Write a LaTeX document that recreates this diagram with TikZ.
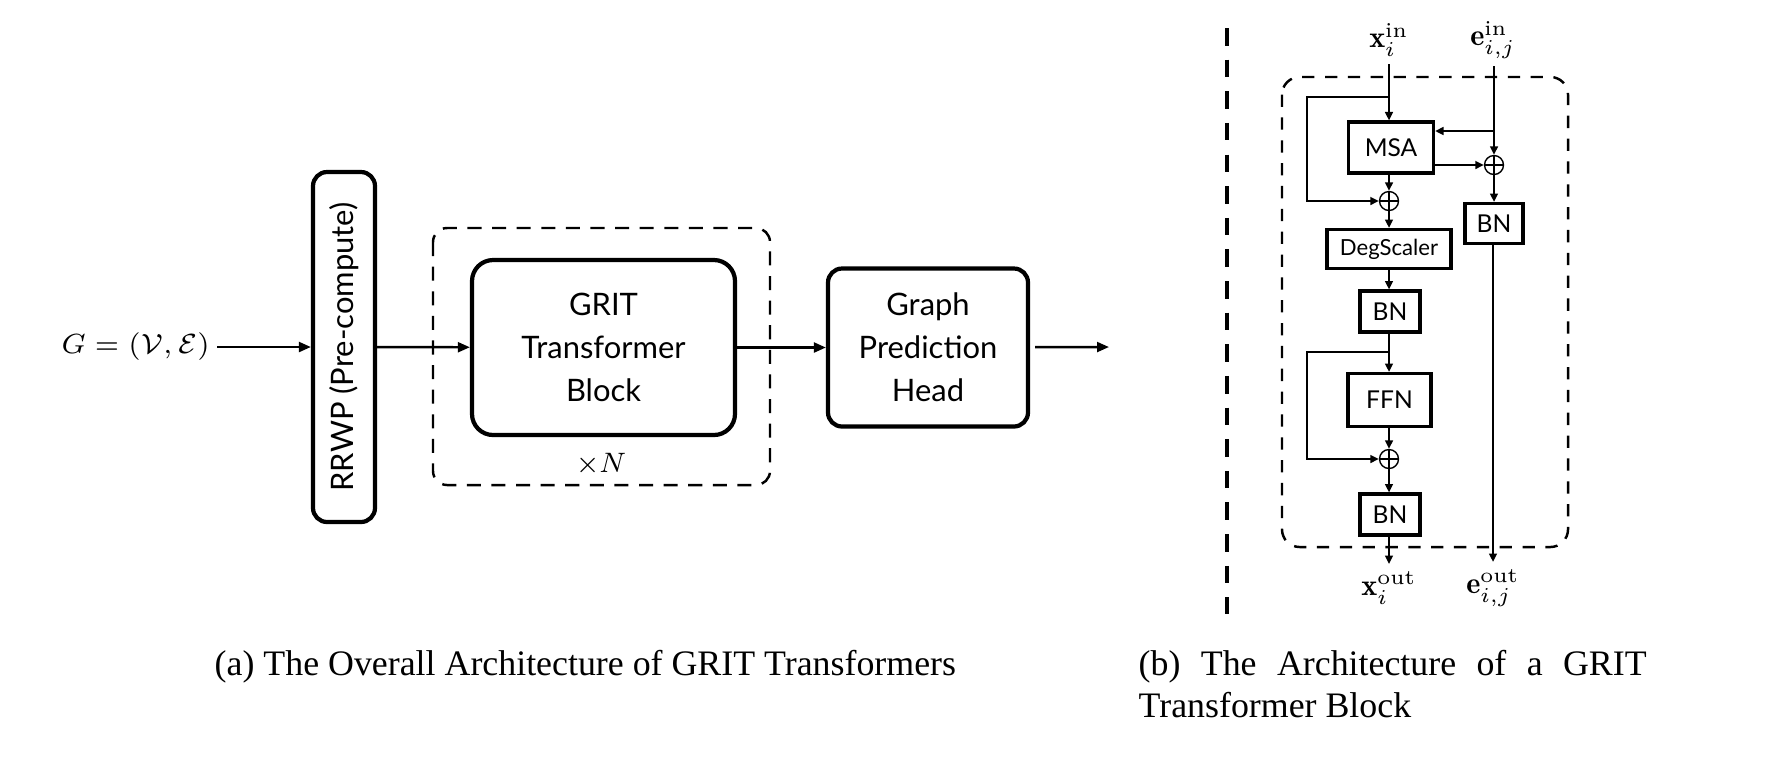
\documentclass[tikz,border=0pt]{standalone}
\usepackage{fix-cm}
\usepackage{amsmath}
\usepackage{fontspec}
\setsansfont{Lato}
\newfontfamily\capfont{Liberation Serif}
\usetikzlibrary{arrows.meta,calc}

\begin{document}
\begin{tikzpicture}[
  every node/.style={align=center, inner sep=2pt},
  block/.style={draw, line width=1.2pt, rounded corners=4pt, font=\sffamily\fontsize{8.8}{12.2}\selectfont},
  layer/.style={draw, line width=0.9pt, font=\sffamily\fontsize{7}{8}\selectfont},
  addop/.style={circle, draw, thin, minimum size=1.9mm, inner sep=0pt,
    path picture={\draw[thin] (path picture bounding box.north) -- (path picture bounding box.south)
      (path picture bounding box.west) -- (path picture bounding box.east);}},
  flow/.style={-{Triangle[length=3.4pt,width=2.8pt]}, line width=0.7pt},
  link/.style={-{Triangle[length=2.4pt,width=2.2pt]}, line width=0.6pt},
  loopbox/.style={dash pattern=on 4pt off 3pt, line width=0.7pt, rounded corners=4pt},
  divider/.style={dash pattern=on 5pt off 4pt, line width=0.9pt},
  var/.style={font=\fontsize{8.6}{10}\selectfont},
  captext/.style={font=\capfont\fontsize{10.2}{11.7}\selectfont, inner sep=0pt}
]
\useasboundingbox (0,0) rectangle (17.84,-7.58);

\node[var, font=\fontsize{7.9}{10}\selectfont] (graph) at (1.355,-3.47) {$G=(\mathcal{V},\mathcal{E})$};
\node[block, minimum width=0.62cm, minimum height=3.5cm] (rrwp) at (3.44,-3.47) {\rotatebox{90}{RRWP (Pre-compute)}};
\node[block, rounded corners=6pt, minimum width=2.63cm, minimum height=1.75cm] (grit) at (6.035,-3.475) {GRIT\\Transformer\\Block};
\node[block, minimum width=2.0cm, minimum height=1.58cm] (head) at (9.28,-3.475) {Graph\\Prediction\\Head};
\draw[loopbox] (4.33,-2.28) rectangle (7.70,-4.85);
\node[var, font=\fontsize{8}{10}\selectfont] (rep) at (6.01,-4.64) {$\times N$};
\coordinate (out) at (11.09,-3.47);

\draw[flow] (graph) -- (rrwp);
\draw[flow] (rrwp) -- (grit);
\draw[flow] (grit) -- (head);
\draw[flow, shorten <=0.05cm] (head) -- (out);

\draw[divider] (12.27,-0.28) -- (12.27,-6.14);
\draw[loopbox, dash pattern=on 3.5pt off 3pt, rounded corners=5pt] (12.82,-0.77) rectangle (15.68,-5.47);

\node[var] (xin) at (13.89,-0.40) {$\mathbf{x}_i^{\mathrm{in}}$};
\node[var] (ein) at (14.93,-0.40) {$\mathbf{e}_{i,j}^{\mathrm{in}}$};
\node[layer, minimum width=0.85cm, minimum height=0.51cm] (msa) at (13.91,-1.475) {MSA};
\node[addop] (add1) at (13.89,-2.01) {};
\node[addop] (add2) at (14.94,-1.65) {};
\node[layer, minimum width=0.58cm, minimum height=0.40cm] (bne) at (14.94,-2.235) {BN};
\node[layer, minimum width=1.24cm, minimum height=0.39cm, font=\sffamily\fontsize{6.3}{7}\selectfont] (deg) at (13.89,-2.49) {DegScaler};
\node[layer, minimum width=0.60cm, minimum height=0.41cm] (bn1) at (13.90,-3.115) {BN};
\node[layer, minimum width=0.83cm, minimum height=0.53cm] (ffn) at (13.895,-4.00) {FFN};
\node[addop] (add3) at (13.89,-4.59) {};
\node[layer, minimum width=0.60cm, minimum height=0.41cm] (bn2) at (13.90,-5.145) {BN};
\node[var] (xout) at (13.89,-5.88) {$\mathbf{x}_i^{\mathrm{out}}$};
\node[var] (eout) at (14.93,-5.88) {$\mathbf{e}_{i,j}^{\mathrm{out}}$};
\coordinate (s1) at (13.89,-0.97);
\coordinate (s2) at (13.89,-3.52);
\coordinate (eb) at (14.94,-1.31);

\draw[link] (xin) -- (xin |- msa.north);
\draw[link] (s1) -- ++(-0.82,0) |- (add1);
\draw[link] (ein.south -| eb) -- (add2);
\draw[link] (eb) -- (eb -| msa.east);
\draw[link] (msa.east |- add2) -- (add2);
\draw[link] (msa.south -| add1) -- (add1);
\draw[link] (add1) -- (deg);
\draw[link] (deg) -- (deg |- bn1.north);
\draw[link] (bn1.south -| add1) -- (add1 |- ffn.north);
\draw[link] (s2) -- ++(-0.82,0) |- (add3);
\draw[link] (ffn.south -| add3) -- (add3);
\draw[link] (add3) -- (add3 |- bn2.north);
\draw[link] (bn2.south -| xout) -- (xout);
\draw[link] (add2) -- (bne);
\draw[link] (bne.south -| eout) -- (eout);

\node[captext, anchor=base west] (capa) at (2.14,-6.75) {(a) The Overall Architecture of GRIT Transformers};
\node[captext, anchor=north west, text width=5.08cm, align=justify] (capb) at (11.38,-6.50) {(b) The Architecture of a GRIT Transformer Block};
\end{tikzpicture}
\end{document}
